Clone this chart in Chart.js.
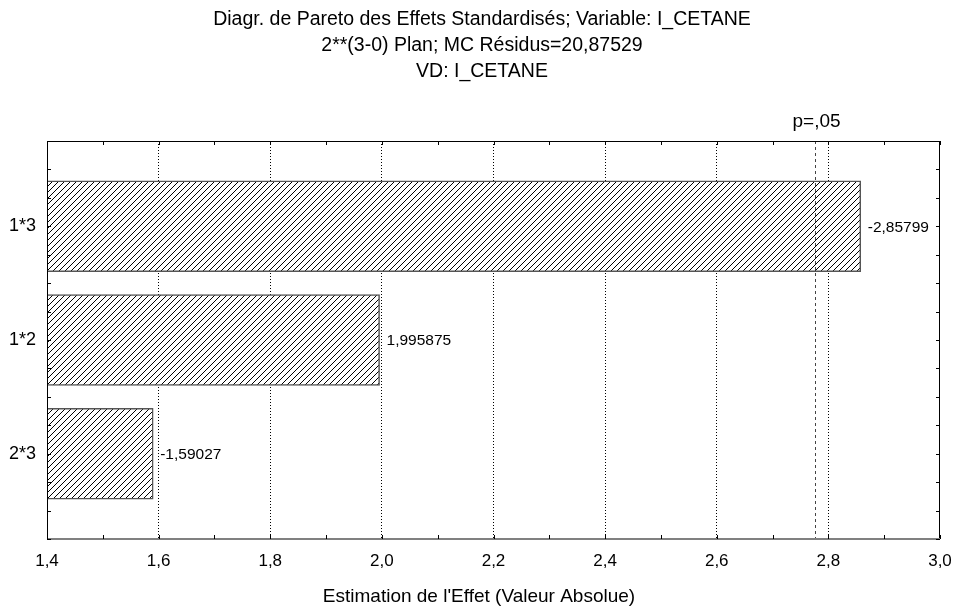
<!DOCTYPE html>
<html>
<head>
<meta charset="utf-8">
<script src="https://cdn.jsdelivr.net/npm/chart.js@4"></script>
<style>
    html, body { margin: 0; padding: 0; background: #fff; }
    #wrap { width: 957px; height: 609px; position: relative; }
</style>
</head>
<body>
<div id="wrap"><canvas id="pareto"></canvas></div>
<script>
// données
const effets = ['1*3', '1*2', '2*3'];
const estimations = [-2.85799, 1.995875, -1.59027];
const pSeuil = 2.776445;
const titres = [
    'Diagr. de Pareto des Effets Standardisés; Variable: I_CETANE',
    '2**(3-0) Plan; MC Résidus=20,87529',
    'VD: I_CETANE'
];
const xTitre = "Estimation de l'Effet (Valeur Absolue)";

const FONT = 'Arial, "Liberation Sans", sans-serif';

// motif hachuré ////
function hachures() {
    const c = document.createElement('canvas');
    c.width = 6; c.height = 6;
    const g = c.getContext('2d');
    g.fillStyle = '#fff';
    g.fillRect(0, 0, 6, 6);
    g.strokeStyle = '#000';
    g.lineWidth = 1;
    g.beginPath();
    g.moveTo(-1, 7); g.lineTo(7, -1);
    g.moveTo(-4, 4); g.lineTo(4, -4);
    g.moveTo(2, 10); g.lineTo(10, 2);
    g.stroke();
    return g.createPattern(c, 'repeat');
}

const habillage = {
    id: 'habillage',
    afterDraw(chart) {
        const { ctx, chartArea: a, scales: { x, y } } = chart;
        ctx.save();

        // ligne p=,05
        const px = Math.round(x.getPixelForValue(pSeuil)) + 0.5;
        ctx.strokeStyle = '#444';
        ctx.lineWidth = 1;
        ctx.setLineDash([3, 3]);
        ctx.beginPath();
        ctx.moveTo(px, a.top); ctx.lineTo(px, a.bottom);
        ctx.stroke();
        ctx.setLineDash([]);

        // cadre
        ctx.strokeStyle = '#000';
        ctx.beginPath();
        ctx.moveTo(a.left + 0.5, a.bottom); ctx.lineTo(a.left + 0.5, a.top + 0.5);
        ctx.lineTo(a.right - 0.5, a.top + 0.5); ctx.lineTo(a.right - 0.5, a.bottom);
        ctx.stroke();
        ctx.strokeStyle = '#808080';
        ctx.lineWidth = 2;
        ctx.beginPath();
        ctx.moveTo(a.left, a.bottom); ctx.lineTo(a.right, a.bottom);
        ctx.stroke();

        // petites graduations vers l'intérieur
        ctx.strokeStyle = '#000';
        ctx.lineWidth = 1;
        ctx.beginPath();
        x.ticks.forEach(t => {
            const p = Math.round(x.getPixelForValue(t.value)) + 0.5;
            ctx.moveTo(p, a.bottom); ctx.lineTo(p, a.bottom - 4);
            ctx.moveTo(p, a.top); ctx.lineTo(p, a.top + 4);
        });
        y.ticks.forEach(t => {
            const p = Math.round(y.getPixelForValue(t.value)) + 0.5;
            ctx.moveTo(a.left, p); ctx.lineTo(a.left + 4, p);
            ctx.moveTo(a.right, p); ctx.lineTo(a.right - 4, p);
        });
        ctx.stroke();

        // valeurs des effets
        ctx.fillStyle = '#000';
        ctx.font = '15.5px ' + FONT;
        ctx.textAlign = 'left';
        ctx.textBaseline = 'middle';
        estimations.forEach((v, i) => {
            const bx = x.getPixelForValue(Math.abs(v));
            const by = y.getPixelForValue(i + 1);
            ctx.fillText(String(v).replace('.', ','), bx + 7, by + 1);
        });

        // titres
        ctx.font = '19.5px ' + FONT;
        ctx.textAlign = 'center';
        titres.forEach((t, i) => ctx.fillText(t, 482, 20 + i * 26));
        ctx.font = '19px ' + FONT;
        ctx.fillText('p=,05', px + 1, 122);
        ctx.fillText(xTitre, 479, 597);
        ctx.restore();
    }
};

const valeurs = estimations.map((v, i) => ({ x: Math.abs(v), y: i + 1 }));

new Chart(document.getElementById('pareto'), {
    type: 'bar',
    data: {
        datasets: [{
            data: valeurs,
            backgroundColor: hachures(),
            borderColor: '#555',
            borderWidth: 1.5,
            borderSkipped: 'start',
            barThickness: 91
        }]
    },
    options: {
        indexAxis: 'y',
        responsive: true,
        maintainAspectRatio: false,
        animation: false,
        layout: { padding: { top: 141, right: 17, left: 0, bottom: 0 } },
        plugins: {
            legend: { display: false },
            tooltip: { enabled: false }
        },
        scales: {
            x: {
                type: 'linear',
                min: 1.4,
                max: 3.0,
                afterFit(s) {
                    s.height = 70;
                    s.paddingLeft = 0;
                    s.paddingRight = 0;
                },
                afterBuildTicks(s) {
                    s.ticks = [];
                    for (let k = 14; k <= 30; k++) s.ticks.push({ value: k / 10 });
                },
                border: { display: false, dash: [1, 2] },
                grid: {
                    drawTicks: false,
                    lineWidth: 1,
                    color: c => {
                        const k = Math.round(c.tick.value * 10);
                        return (k % 2 === 0 && k > 14 && k < 30) ? '#000' : 'rgba(0,0,0,0)';
                    }
                },
                ticks: {
                    autoSkip: false,
                    maxRotation: 0,
                    padding: 12,
                    color: '#000',
                    font: { family: FONT, size: 17 },
                    callback: v => {
                        const k = Math.round(v * 10);
                        return k % 2 === 0 ? (k / 10).toFixed(1).replace('.', ',') : '';
                    }
                }
            },
            y: {
                type: 'linear',
                reverse: true,
                offset: false,
                min: 0.25,
                max: 3.75,
                afterFit(s) {
                    s.width = 47;
                    s.paddingTop = 0;
                    s.paddingBottom = 0;
                },
                afterBuildTicks(s) {
                    s.ticks = [];
                    for (let k = 1; k <= 15; k++) s.ticks.push({ value: k / 4 });
                },
                border: { display: false },
                grid: { display: false, drawTicks: false },
                ticks: {
                    padding: 11,
                    color: '#000',
                    font: { family: FONT, size: 18 },
                    callback: v => Number.isInteger(v) ? effets[v - 1] : ''
                }
            }
        }
    },
    plugins: [habillage]
});
</script>
</body>
</html>
